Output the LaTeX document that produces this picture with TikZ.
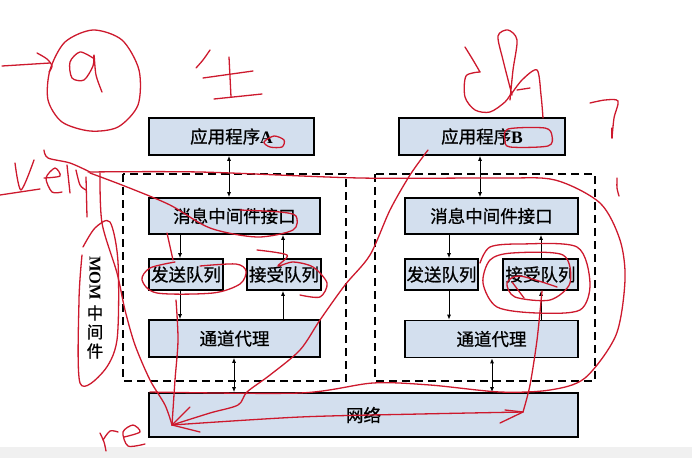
\documentclass[tikz,border=0pt]{standalone}
\usepackage{fontspec}
\setmainfont{Liberation Serif}
\newfontfamily\cjk[FakeBold=0.8]{Noto Sans CJK SC}
\usetikzlibrary{arrows.meta}
\definecolor{boxfill}{RGB}{211,223,238}
\definecolor{pen}{RGB}{205,25,45}
\tikzset{
  box/.style={draw=black, line width=1.6pt, fill=boxfill, inner sep=0pt,
    font=\cjk\fontsize{17.5}{18}\selectfont},
  dbox/.style={draw=black, line width=1.5pt, dash pattern=on 8pt off 5pt},
  arr/.style={line width=1pt, -{Latex[length=5pt,width=4pt]}},
  darr/.style={line width=1pt, {Latex[length=5pt,width=4pt]}-{Latex[length=5pt,width=4pt]}},
  ink/.style={draw=pen, line width=1.3pt, line cap=round, line join=round},
}
\begin{document}
\begin{tikzpicture}[x=1pt,y=-1pt]
\useasboundingbox (0,0) rectangle (692,458);
\fill[gray!12] (0,447) rectangle (692,458);
% dashed frames
\draw[dbox] (123,174) rectangle (346,381);
\draw[dbox] (375,174) rectangle (595,381);
% boxes
\node[box, minimum width=165pt, minimum height=37pt] (appA) at (231.5,136.5) {应用程序{\rmfamily\bfseries A}};
\node[box, minimum width=166pt, minimum height=37pt] (appB) at (482,136.5) {应用程序{\rmfamily\bfseries B}};
\node[box, minimum width=171pt, minimum height=36pt] (ifA) at (234.5,216) {消息中间件接口};
\node[box, minimum width=173pt, minimum height=36pt] (ifB) at (491.5,216) {消息中间件接口};
\node[box, minimum width=74pt, minimum height=31pt] (sendA) at (186,274.5) {发送队列};
\node[box, minimum width=74pt, minimum height=31pt] (recvA) at (284,274.5) {接受队列};
\node[box, minimum width=73pt, minimum height=31pt] (sendB) at (441.5,274.5) {发送队列};
\node[box, minimum width=75pt, minimum height=31pt] (recvB) at (540.5,274.5) {接受队列};
\node[box, minimum width=171pt, minimum height=37pt] (chanA) at (234.5,338.5) {通道代理};
\node[box, minimum width=173pt, minimum height=37pt] (chanB) at (491.5,339) {通道代理};
\node[box, minimum width=429pt, minimum height=44pt] (net) at (363.5,415) {网络};
% side label
\node[rotate=-90, font=\rmfamily\bfseries\fontsize{16.5}{16.5}\selectfont] (mom) at (95,278) {MOM};
\node[font=\cjk\fontsize{16.5}{16.5}\selectfont] (c1) at (95,313) {中};
\node[font=\cjk\fontsize{16.5}{16.5}\selectfont] (c2) at (95,332) {间};
\node[font=\cjk\fontsize{16.5}{16.5}\selectfont] (c3) at (95,351) {件};
% connectors
\draw[darr] (appA.south -| 229,0) -- (ifA.north -| 229,0);
\draw[darr] (appB.south -| 480,0) -- (ifB.north -| 480,0);
\draw[arr] (ifA.south -| 180,0) -- (sendA.north -| 180,0);
\draw[arr] (recvA.north -| 283,0) -- (ifA.south -| 283,0);
\draw[arr] (sendA.south -| 180,0) -- (chanA.north -| 180,0);
\draw[arr] (chanA.north -| 283,0) -- (recvA.south -| 283,0);
\draw[arr] (ifB.south -| 449,0) -- (sendB.north -| 449,0);
\draw[arr] (recvB.north -| 541,0) -- (ifB.south -| 541,0);
\draw[arr] (sendB.south -| 449,0) -- (chanB.north -| 449,0);
\draw[arr] (chanB.north -| 541,0) -- (recvB.south -| 541,0);
\draw[darr] (chanA.south -| 234,0) -- (net.north -| 234,0);
\draw[darr] (chanB.south -| 492,0) -- (net.north -| 492,0);
% ---- red handwriting ----
\draw[ink] (2,66) -- (50,63);
\draw[ink] plot[smooth] coordinates {(37,53) (47,59) (52,66) (49,72)};
\draw[ink] plot[smooth cycle] coordinates {(93,30) (122,40) (139,70) (138,105) (118,127) (90,131) (62,122) (48,100) (50,70) (65,42)};
\draw[ink] plot[smooth] coordinates {(93,58) (80,52) (70,62) (72,78) (84,80) (93,66) (94,55) (96,75) (102,92)};
% 生
\draw[ink] plot[smooth] coordinates {(210,50) (203,60) (196,68)};
\draw[ink] (203,78) -- (253,71);
\draw[ink] (229,57) -- (231,97);
\draw[ink] (214,99) -- (262,94);
% top right scribble
\draw[ink] plot[smooth] coordinates {(465,47) (473,60) (480,72)};
\draw[ink] plot[smooth] coordinates {(480,72) (466,76) (465,97) (475,110) (490,112) (505,102) (512,92)};
\draw[ink] plot[smooth] coordinates {(512,95) (503,60) (498,36) (508,30) (517,40) (513,70) (510,100)};
\draw[ink] plot[smooth] coordinates {(510,96) (522,80) (537,70) (541,95) (543,118)};
\draw[ink] (517,90) -- (530,88);
% ?
\draw[ink] plot[smooth] coordinates {(590,103) (605,100) (618,101) (614,118) (612,138)};
\draw[ink] (612,128) -- (612,138);
\draw[ink] plot[smooth] coordinates {(617,178) (617,188) (619,196)};
% left scribble
\draw[ink] (0,195) -- (40,189);
\draw[ink] plot[smooth] coordinates {(15,163) (21,190) (34,160)};
\draw[ink] plot[smooth] coordinates {(44,178) (60,176) (55,168) (46,178) (52,192) (62,192)};
\draw[ink] (67,165) -- (70,193);
\draw[ink] plot[smooth] coordinates {(76,170) (80,185) (86,190)};
\draw[ink] plot[smooth] coordinates {(44,150) (48,158) (70,163) (90,172)};
\draw[ink] (86,177) -- (87,217);
% big loop around right side
\draw[ink] plot[smooth] coordinates {(88,172) (200,172) (360,178) (500,178) (555,180) (600,203) (620,240) (625,280) (616,335) (585,378) (550,390) (500,392) (430,385) (373,383) (300,393) (150,392)};
% hook around interface A
\draw[ink] plot[smooth] coordinates {(90,173) (127,187) (170,205) (210,228) (257,237) (293,230) (296,216) (280,212) (240,210)};
% queue A loops
\draw[ink] plot[smooth] coordinates {(175,262) (150,268) (142,280) (157,293) (213,293) (240,284) (246,271) (236,264) (200,266)};
\draw[ink] plot[smooth] coordinates {(257,250) (287,255) (278,266) (293,262) (313,267) (327,283) (320,297) (300,295)};
\draw[ink] (167,233) -- (173,260);
% long left curve
\draw[ink] plot[smooth] coordinates {(100,173) (102,223) (117,273) (125,310) (135,345) (150,380) (165,405) (172,425)};
\draw[ink] plot[smooth] coordinates {(176,300) (178,340) (175,380) (172,425)};
% curve from app B down to network
\draw[ink] plot[smooth] coordinates {(428,150) (410,175) (390,210) (370,255) (345,285) (320,320) (300,350) (270,375) (247,392) (238,405) (210,413) (172,425)};
\draw[ink] (190,407) -- (172,425) -- (200,432);
% line along network up to receive B
\draw[ink] plot[smooth] coordinates {(172,425) (300,417) (420,414) (523,412)};
\draw[ink] plot[smooth] coordinates {(523,412) (530,385) (537,340) (542,291)};
\draw[ink] (500,423) -- (523,412) -- (505,410);
% spiral around receive B
\draw[ink] plot[smooth] coordinates {(480,263) (490,247) (520,244) (577,247) (590,283) (580,310) (537,313) (497,307) (483,283) (490,260) (512,253) (563,255) (570,283) (550,300) (515,297) (507,283) (520,276) (557,287)};
\draw[ink] (512,282) -- (524,298);
% MOM loop
\draw[ink] plot[smooth] coordinates {(83,247) (95,228) (110,222) (118,262) (117,340) (103,372) (80,383) (79,300) (82,255)};
% re
\draw[ink] plot[smooth] coordinates {(100,433) (104,442) (106,451)};
\draw[ink] plot[smooth] coordinates {(103,440) (110,431) (118,432)};
\draw[ink] plot[smooth] coordinates {(124,437) (140,432) (133,425) (123,432) (128,446) (145,444)};
% small marks near A and B
\draw[ink] plot[smooth cycle] coordinates {(264,142) (274,136) (284,140) (282,147) (270,147)};
\draw[ink] plot[smooth cycle] coordinates {(505,140) (508,129) (545,128) (552,136) (548,146) (510,147)};
\end{tikzpicture}
\end{document}
